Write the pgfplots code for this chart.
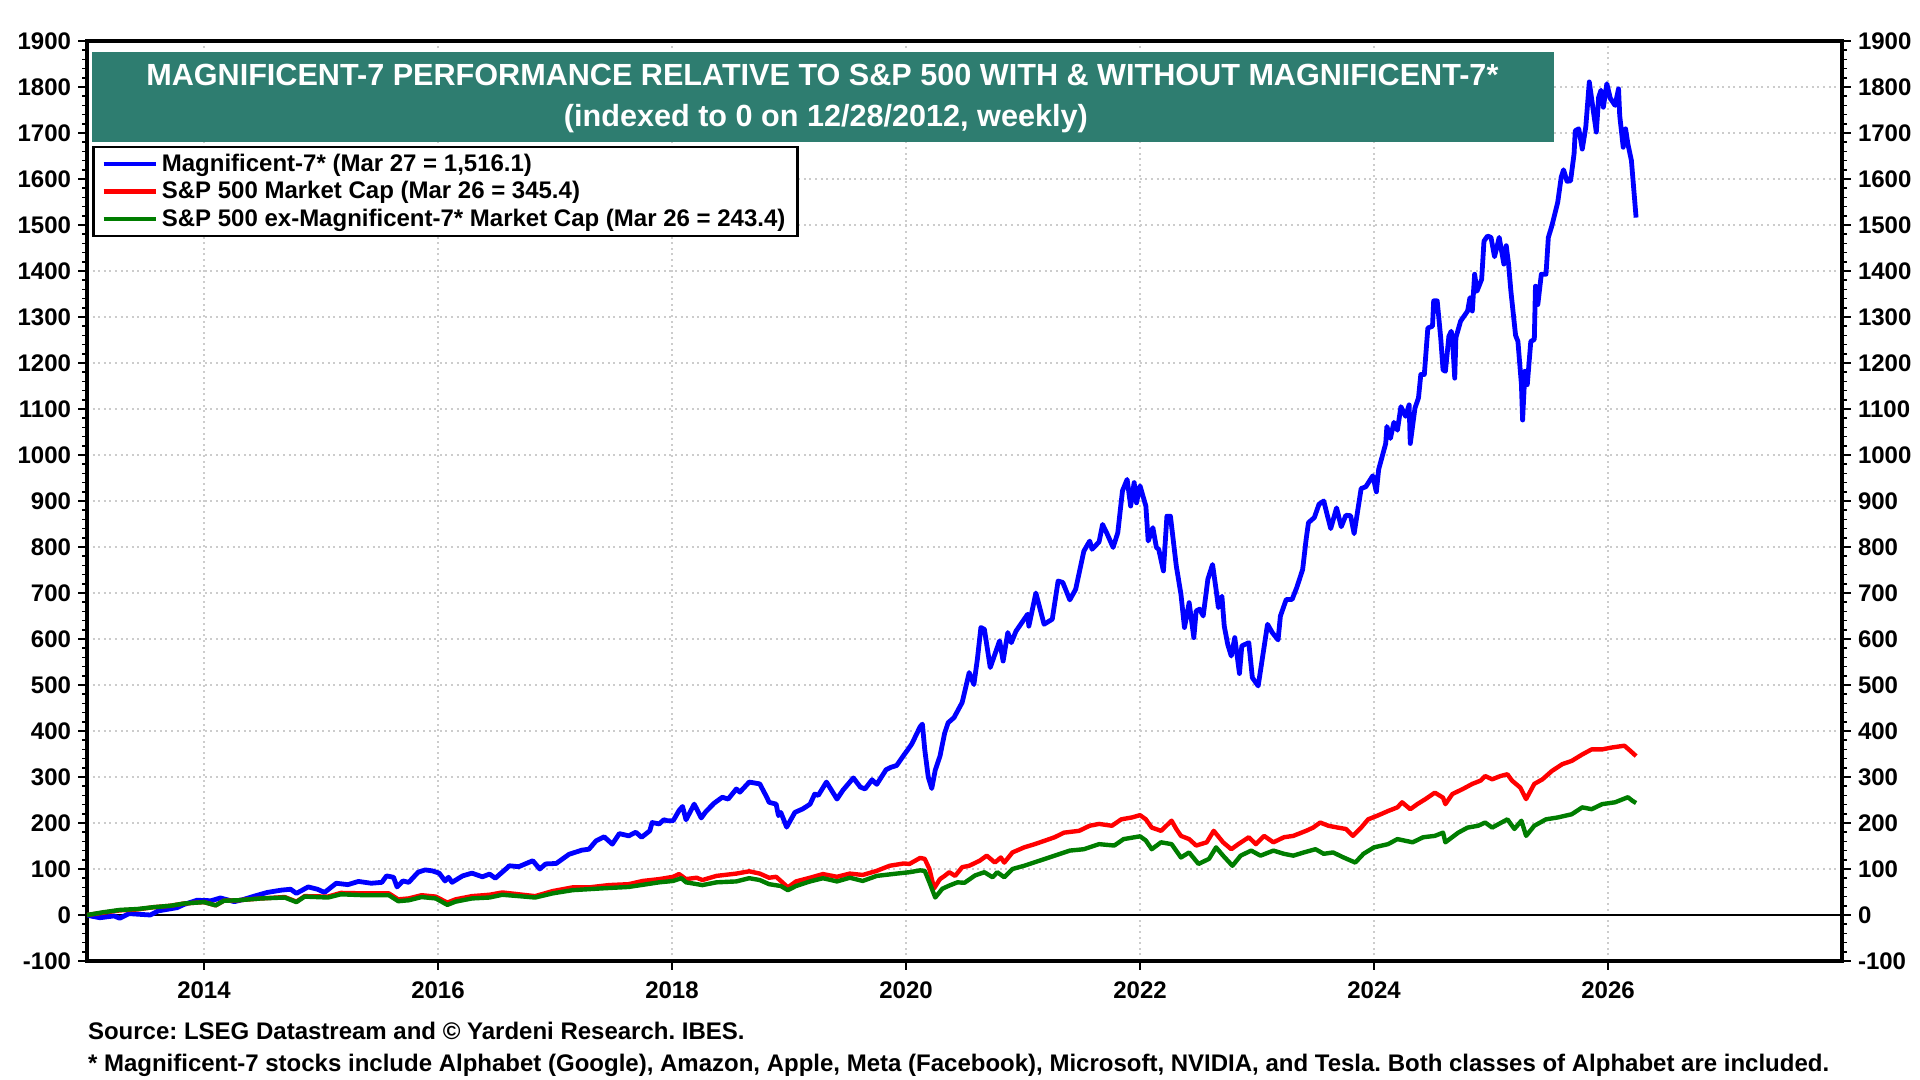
\documentclass[border=0pt]{standalone}
\usepackage{fontspec}
\setmainfont{Liberation Sans}
\usepackage{pgfplots}
\pgfplotsset{compat=1.18}
\definecolor{ydteal}{RGB}{46,125,112}
\definecolor{ydgreen}{RGB}{0,125,0}
\frenchspacing

\pgfplotsset{
  ydbase/.style={
    at={(0,0)}, anchor=south west, scale only axis,
    width=877.5pt, height=460pt,
    xmin=2013, xmax=2028, ymin=-100, ymax=1900,
    ytick={-100,0,...,1900}, minor y tick num=4,
    tick align=outside, major tick length=4.5pt, minor tick length=2.5pt,
    every tick/.style={black, line width=0.8pt},
    axis line style={line width=1.8pt},
    tick label style={font=\bfseries\fontsize{12}{14}\selectfont},
    /pgf/number format/assume math mode=true,
    /pgf/number format/1000 sep={},
    yticklabel={\pgfmathprintnumber{\tick}},
  },
}

\begin{document}
\begin{tikzpicture}[font=\bfseries]
\path[use as bounding box] (-43.5pt,-59.5pt) rectangle (916.5pt,480.5pt);
\begin{axis}[ydbase,
  xtick={2014,2016,...,2026}, minor x tick num=7,
  xtick pos=left, ytick pos=left,
  xticklabel style={yshift=-2.5pt},
  grid=major,
  major grid style={gray!40, line width=0.9pt, dash pattern=on 1pt off 1.8pt},
  legend style={at={(rel axis cs:0.003,0.886)}, anchor=north west,
    draw=black, line width=1.2pt, fill=white,
    font=\bfseries\fontsize{12}{14}\selectfont,
    inner xsep=4pt, inner ysep=1.5pt, row sep=-0.5pt},
  legend cell align=left,
  legend image code/.code={\draw[#1, line width=2.2pt] (0pt,0pt) -- (26pt,0pt);},
]
\fill[ydteal] (rel axis cs:0.003,0.890) rectangle (rel axis cs:0.836,0.988);
\node[white, font=\bfseries\fontsize{15.3}{17}\selectfont] at (rel axis cs:0.419,0.963)
  {MAGNIFICENT-7 PERFORMANCE RELATIVE TO S\&P 500 WITH \& WITHOUT MAGNIFICENT-7*};
\node[white, font=\bfseries\fontsize{15.3}{17}\selectfont] at (rel axis cs:0.421,0.916)
  {(indexed to 0 on 12/28/2012, weekly)};
\draw[black, line width=0.6pt] (axis cs:2013,0) -- (axis cs:2028,0);

\addplot[blue, line width=2.4pt, line join=round] coordinates {
(2013.00,0) (2013.03,-2) (2013.11,-6) (2013.23,-2) (2013.28,-7) (2013.36,3)
(2013.48,1) (2013.54,0) (2013.61,9) (2013.68,12) (2013.77,16) (2013.83,23)
(2013.94,32) (2014.06,31) (2014.14,37) (2014.26,29) (2014.34,34) (2014.43,41)
(2014.54,49) (2014.66,54) (2014.74,56) (2014.79,47) (2014.89,61) (2014.97,56)
(2015.03,49) (2015.13,69) (2015.23,66) (2015.32,73) (2015.43,69) (2015.52,71)
(2015.56,85) (2015.62,82) (2015.65,61) (2015.70,74) (2015.75,71) (2015.83,93)
(2015.89,98) (2015.95,96) (2016.01,91) (2016.06,74) (2016.09,82) (2016.12,71)
(2016.21,85) (2016.29,91) (2016.38,83) (2016.44,89) (2016.49,80) (2016.58,100)
(2016.61,107) (2016.69,105) (2016.81,118) (2016.87,100) (2016.92,111) (2017.01,112)
(2017.12,132) (2017.23,141) (2017.29,143) (2017.35,161) (2017.42,170) (2017.49,154)
(2017.55,177) (2017.63,172) (2017.69,180) (2017.74,169) (2017.81,183) (2017.83,201)
(2017.89,198) (2017.93,207) (2017.96,205) (2018.01,205) (2018.06,227) (2018.09,236)
(2018.12,207) (2018.19,241) (2018.25,211) (2018.29,225) (2018.36,243) (2018.43,256)
(2018.48,252) (2018.55,274) (2018.58,267) (2018.66,289) (2018.75,285) (2018.81,256)
(2018.83,245) (2018.89,241) (2018.91,216) (2018.93,223) (2018.98,191) (2019.05,223)
(2019.12,231) (2019.18,241) (2019.22,263) (2019.25,260) (2019.32,289) (2019.41,252)
(2019.46,271) (2019.55,298) (2019.61,278) (2019.65,274) (2019.71,294) (2019.75,284)
(2019.83,316) (2019.87,321) (2019.92,325) (2019.98,347) (2020.02,361) (2020.05,372)
(2020.12,409) (2020.14,415) (2020.16,360) (2020.19,300) (2020.22,275) (2020.25,315)
(2020.29,345) (2020.33,395) (2020.36,418) (2020.41,429) (2020.48,462) (2020.54,527)
(2020.58,501) (2020.61,556) (2020.64,625) (2020.67,621) (2020.72,538) (2020.80,596)
(2020.83,552) (2020.87,614) (2020.90,592) (2020.94,617) (2021.04,654) (2021.05,628)
(2021.11,700) (2021.18,632) (2021.25,643) (2021.30,726) (2021.34,723) (2021.40,685)
(2021.45,708) (2021.52,791) (2021.57,813) (2021.59,795) (2021.65,811) (2021.68,849)
(2021.72,828) (2021.77,799) (2021.81,831) (2021.85,922) (2021.89,947) (2021.92,889)
(2021.95,940) (2021.97,896) (2022.00,933) (2022.05,889) (2022.07,813) (2022.11,842)
(2022.14,799) (2022.16,795) (2022.20,748) (2022.23,867) (2022.26,867) (2022.31,759)
(2022.35,697) (2022.38,625) (2022.42,679) (2022.46,603) (2022.48,661) (2022.51,665)
(2022.54,650) (2022.58,730) (2022.62,762) (2022.65,708) (2022.67,668) (2022.70,693)
(2022.72,628) (2022.75,588) (2022.78,563) (2022.81,603) (2022.85,525) (2022.87,585)
(2022.93,592) (2022.96,516) (2023.01,498) (2023.09,632) (2023.13,614) (2023.18,598)
(2023.20,650) (2023.25,686) (2023.30,686) (2023.34,712) (2023.39,751) (2023.42,817)
(2023.44,853) (2023.49,864) (2023.53,893) (2023.57,900) (2023.63,840) (2023.68,885)
(2023.72,844) (2023.76,869) (2023.80,868) (2023.83,829) (2023.89,927) (2023.93,931)
(2023.99,955) (2024.02,920) (2024.04,969) (2024.10,1025) (2024.11,1062) (2024.14,1036)
(2024.17,1071) (2024.20,1054) (2024.23,1105) (2024.27,1084) (2024.30,1109) (2024.31,1025)
(2024.35,1102) (2024.38,1124) (2024.40,1175) (2024.43,1175) (2024.46,1276) (2024.50,1280)
(2024.51,1335) (2024.54,1335) (2024.57,1255) (2024.59,1185) (2024.61,1182) (2024.64,1258)
(2024.66,1269) (2024.67,1255) (2024.69,1167) (2024.70,1255) (2024.74,1291) (2024.80,1313)
(2024.82,1342) (2024.84,1313) (2024.86,1393) (2024.88,1356) (2024.92,1382) (2024.94,1465)
(2024.97,1476) (2025.00,1473) (2025.03,1431) (2025.07,1473) (2025.11,1415) (2025.13,1455)
(2025.15,1415) (2025.17,1356) (2025.21,1260) (2025.23,1247) (2025.26,1153) (2025.27,1076)
(2025.29,1182) (2025.31,1153) (2025.34,1247) (2025.37,1251) (2025.38,1367) (2025.40,1327)
(2025.43,1393) (2025.47,1393) (2025.49,1473) (2025.52,1498) (2025.57,1549) (2025.60,1604)
(2025.62,1620) (2025.65,1595) (2025.68,1596) (2025.71,1655) (2025.72,1705) (2025.75,1709)
(2025.78,1665) (2025.81,1713) (2025.84,1811) (2025.87,1756) (2025.90,1702) (2025.92,1778)
(2025.94,1793) (2025.96,1756) (2025.99,1807) (2026.02,1775) (2026.06,1760) (2026.09,1796)
(2026.10,1738) (2026.13,1669) (2026.15,1709) (2026.17,1676) (2026.20,1640) (2026.24,1516.1)
};
\addlegendentry{Magnificent-7* (Mar 27 = 1,516.1)}

\addplot[red, line width=2.2pt, line join=round] coordinates {
(2013.00,0) (2013.14,5) (2013.28,10) (2013.43,12) (2013.57,17) (2013.71,20)
(2013.83,25) (2014.00,28) (2014.10,21) (2014.17,31) (2014.29,32) (2014.49,36)
(2014.69,39) (2014.79,29) (2014.86,41) (2015.06,40) (2015.17,48) (2015.37,47)
(2015.58,47) (2015.66,34) (2015.75,36) (2015.86,43) (2015.98,40) (2016.08,27)
(2016.15,34) (2016.29,41) (2016.44,44) (2016.55,49) (2016.69,45) (2016.83,41)
(2016.98,52) (2017.15,60) (2017.29,60) (2017.46,65) (2017.63,67) (2017.75,74)
(2017.89,78) (2018.01,83) (2018.06,89) (2018.12,78) (2018.21,81) (2018.26,76)
(2018.38,85) (2018.55,90) (2018.66,95) (2018.75,90) (2018.83,81) (2018.89,83)
(2018.93,74) (2018.99,60) (2019.06,73) (2019.18,81) (2019.29,89) (2019.41,83)
(2019.52,90) (2019.63,87) (2019.75,96) (2019.86,107) (2019.98,112) (2020.03,111)
(2020.12,124) (2020.16,122) (2020.20,100) (2020.24,58) (2020.29,78) (2020.33,85)
(2020.37,93) (2020.42,85) (2020.48,104) (2020.54,107) (2020.63,118) (2020.69,129)
(2020.76,114) (2020.81,125) (2020.84,114) (2020.91,136) (2021.01,147) (2021.10,154)
(2021.18,161) (2021.27,169) (2021.35,179) (2021.48,183) (2021.57,194) (2021.65,198)
(2021.76,194) (2021.84,208) (2021.93,212) (2022.00,217) (2022.05,208) (2022.10,190)
(2022.18,183) (2022.27,205) (2022.31,187) (2022.35,172) (2022.42,165) (2022.48,151)
(2022.57,158) (2022.63,183) (2022.71,158) (2022.78,143) (2022.84,154) (2022.93,169)
(2022.99,154) (2023.06,172) (2023.14,158) (2023.23,169) (2023.31,172) (2023.42,183)
(2023.48,190) (2023.54,201) (2023.61,194) (2023.69,190) (2023.76,187) (2023.82,172)
(2023.89,190) (2023.95,208) (2024.03,216) (2024.12,226) (2024.20,234) (2024.24,245)
(2024.31,230) (2024.37,241) (2024.44,252) (2024.52,266) (2024.59,255) (2024.61,241)
(2024.67,263) (2024.76,274) (2024.84,285) (2024.91,292) (2024.95,302) (2025.01,295)
(2025.08,302) (2025.14,306) (2025.18,292) (2025.25,277) (2025.30,252) (2025.37,285)
(2025.44,295) (2025.52,313) (2025.61,328) (2025.69,335) (2025.78,349) (2025.86,360)
(2025.95,360) (2026.03,364) (2026.14,368) (2026.19,357) (2026.24,345.4)
};
\addlegendentry{S\&P 500 Market Cap (Mar 26 = 345.4)}

\addplot[ydgreen, line width=2.2pt, line join=round] coordinates {
(2013.00,0) (2013.14,6) (2013.28,11) (2013.43,13) (2013.57,17) (2013.71,20)
(2013.83,25) (2014.00,28) (2014.10,21) (2014.17,31) (2014.29,32) (2014.49,36)
(2014.69,38) (2014.79,28) (2014.86,40) (2015.06,38) (2015.17,45) (2015.37,43)
(2015.58,43) (2015.66,30) (2015.75,32) (2015.86,39) (2015.98,36) (2016.08,22)
(2016.15,29) (2016.29,36) (2016.44,38) (2016.55,44) (2016.83,38) (2016.98,47)
(2017.15,54) (2017.41,58) (2017.63,61) (2017.89,71) (2018.01,74) (2018.08,80)
(2018.12,71) (2018.26,65) (2018.38,71) (2018.55,73) (2018.66,80) (2018.75,76)
(2018.83,67) (2018.93,63) (2018.99,54) (2019.06,63) (2019.18,73) (2019.29,80)
(2019.41,73) (2019.52,81) (2019.63,74) (2019.75,85) (2019.92,90) (2020.03,93)
(2020.12,97) (2020.16,96) (2020.20,71) (2020.25,38) (2020.31,57) (2020.37,64)
(2020.44,71) (2020.50,70) (2020.59,86) (2020.67,93) (2020.74,82) (2020.78,93)
(2020.84,82) (2020.91,100) (2021.01,107) (2021.14,118) (2021.27,129) (2021.40,140)
(2021.52,143) (2021.65,154) (2021.78,151) (2021.86,165) (2022.00,171) (2022.05,162)
(2022.10,143) (2022.18,158) (2022.27,154) (2022.35,125) (2022.42,136) (2022.50,111)
(2022.59,122) (2022.65,147) (2022.71,129) (2022.79,107) (2022.86,129) (2022.95,140)
(2023.03,129) (2023.14,140) (2023.23,133) (2023.31,129) (2023.40,136) (2023.50,143)
(2023.57,133) (2023.65,136) (2023.74,125) (2023.84,114) (2023.91,133) (2024.00,147)
(2024.12,154) (2024.20,165) (2024.33,158) (2024.42,169) (2024.52,172) (2024.59,179)
(2024.61,158) (2024.72,179) (2024.80,190) (2024.89,194) (2024.95,201) (2025.01,190)
(2025.14,208) (2025.20,187) (2025.26,205) (2025.30,172) (2025.37,194) (2025.47,208)
(2025.57,212) (2025.69,219) (2025.78,234) (2025.86,230) (2025.95,241) (2026.06,245)
(2026.17,256) (2026.21,248) (2026.24,243.4)
};
\addlegendentry{S\&P 500 ex-Magnificent-7* Market Cap (Mar 26 = 243.4)}
\end{axis}

\begin{axis}[ydbase, axis y line*=right, hide x axis]
\addplot[draw=none] coordinates {(2013,0)};
\end{axis}

\node[anchor=west, font=\bfseries\fontsize{12}{14}\selectfont] at (-3pt,-35pt)
  {Source: LSEG Datastream and © Yardeni Research. IBES.};
\node[anchor=west, font=\bfseries\fontsize{12}{14}\selectfont] at (-3pt,-52pt)
  {* Magnificent-7 stocks include Alphabet (Google), Amazon, Apple, Meta (Facebook), Microsoft, NVIDIA, and Tesla. Both classes of Alphabet are included.};
\end{tikzpicture}
\end{document}
